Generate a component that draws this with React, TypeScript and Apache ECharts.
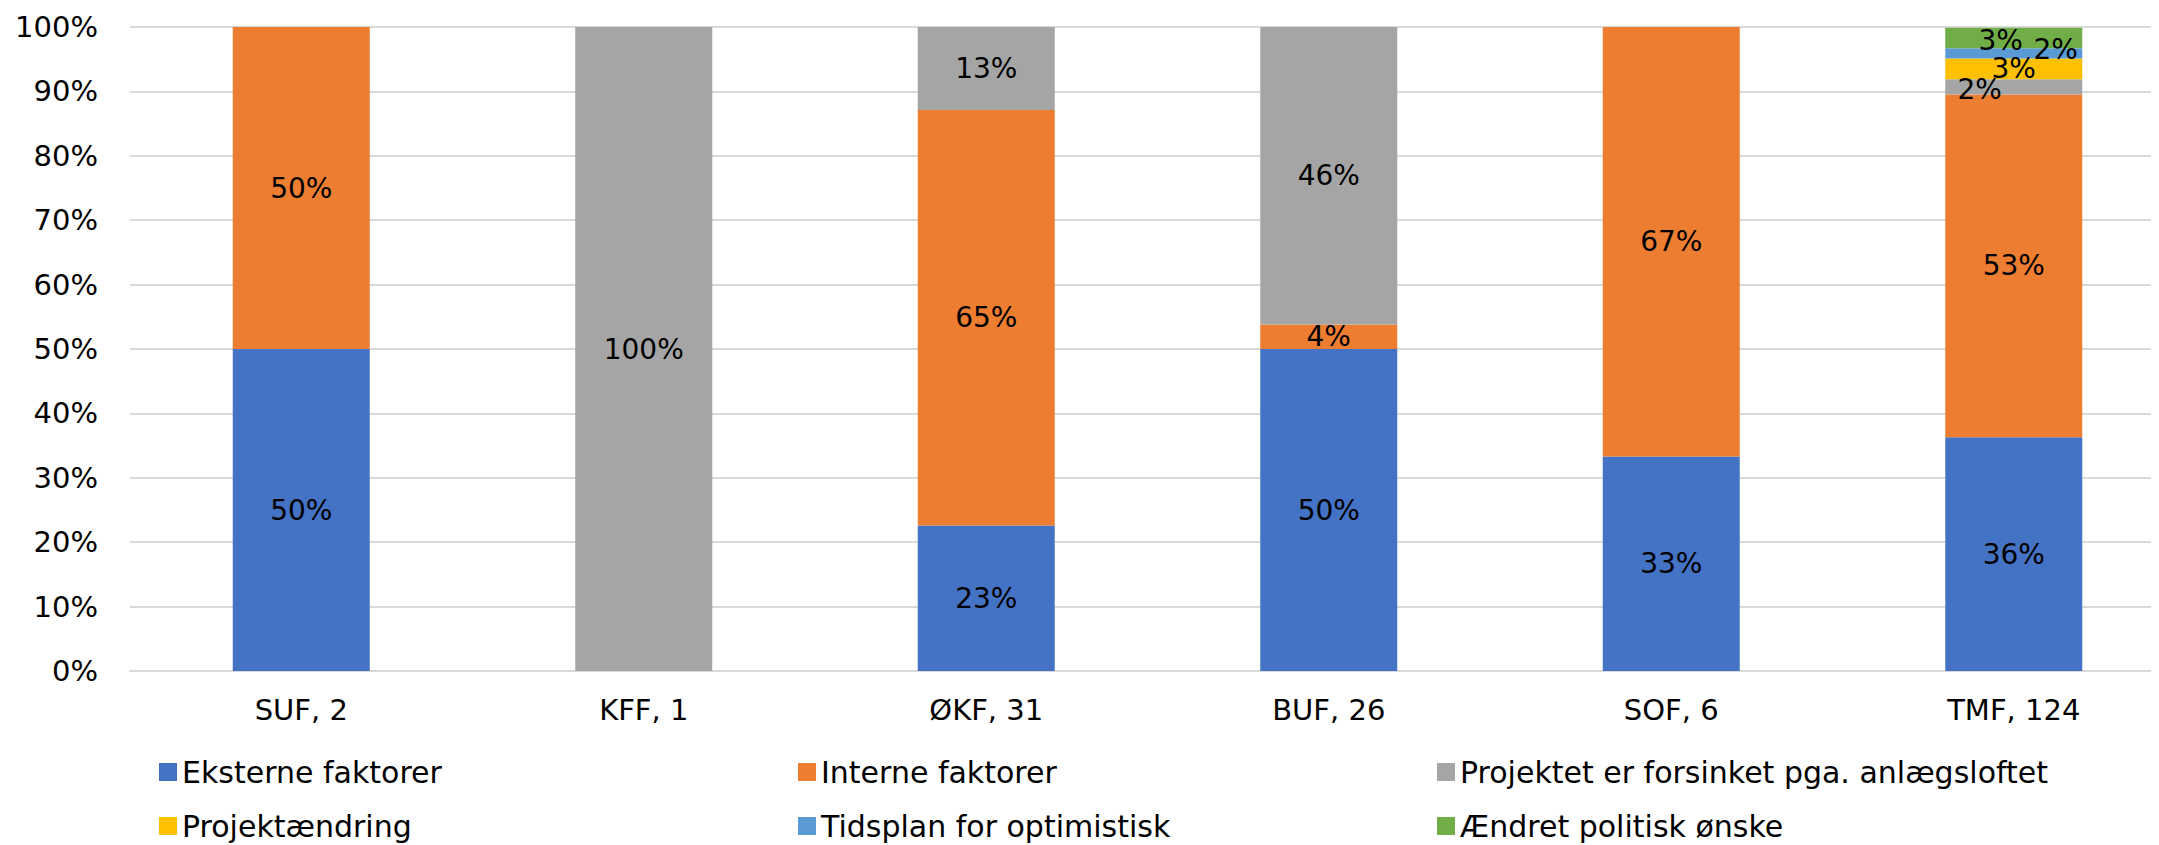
import React, { useEffect, useRef } from "react";
import * as echarts from "echarts";

const categories = ["SUF, 2", "KFF, 1", "ØKF, 31", "BUF, 26", "SOF, 6", "TMF, 124"];
const seriesNames = [
  "Eksterne faktorer",
  "Interne faktorer",
  "Projektet er forsinket pga. anlægsloftet",
  "Projektændring",
  "Tidsplan for optimistisk",
  "Ændret politisk ønske",
];
const eksterne = [50, null, 22.6, 50, 33.3, 36.3];
const interne = [50, null, 64.5, 3.8, 66.7, 53.2];
const projektet = [null, 100, 12.9, 46.2, null, 2.4];
const projektaendring = [null, null, null, null, null, 3.2];
const tidsplan = [null, null, null, null, null, 1.6];
const aendret = [null, null, null, null, null, 3.2];
const yTicks = [0, 10, 20, 30, 40, 50, 60, 70, 80, 90, 100];

const values = [eksterne, interne, projektet, projektaendring, tidsplan, aendret];
const colors = ["#4472C4", "#ED7D31", "#A5A5A5", "#FFC000", "#5B9BD5", "#70AD47"];
// label nudges (Excel-style overlap avoidance) for the last category
const lastOffsets: (number[] | null)[] = [null, null, [-34, 3], [0, 0], [42, -4], [-13, 3]];

const FONT = "'DejaVu Sans', 'Open Sans', sans-serif";

export default function App() {
  const ref = useRef<HTMLDivElement>(null);
  useEffect(() => {
    if (!ref.current) return;
    const chart = echarts.init(ref.current, null, { renderer: "svg" });
    const legendX = [159, 798, 1437];
    const legendY = [757, 811];
    const legends = seriesNames.map((name, i) => ({
      data: [name],
      left: legendX[i % 3],
      top: legendY[Math.floor(i / 3)],
      icon: "rect",
      itemWidth: 18,
      itemHeight: 18,
      itemGap: 10,
      padding: 0,
      selectedMode: false,
      textStyle: { fontFamily: FONT, fontSize: 30, color: "#000", padding: [0, 0, 0, 0] },
    }));
    chart.setOption({
      animation: false,
      textStyle: { fontFamily: FONT },
      grid: { left: 130, top: 27, width: 2055, height: 644, containLabel: false },
      legend: legends,
      xAxis: {
        type: "category",
        data: categories,
        axisTick: { show: false },
        axisLine: { lineStyle: { color: "#D9D9D9", width: 2 } },
        axisLabel: { fontFamily: FONT, fontSize: 29, color: "#000", margin: 24 },
      },
      yAxis: {
        type: "value",
        min: yTicks[0],
        max: yTicks[yTicks.length - 1],
        interval: 10,
        axisLabel: { formatter: "{value}%", fontFamily: FONT, fontSize: 29, color: "#000", margin: 32 },
        splitLine: { lineStyle: { color: "#D9D9D9", width: 2 } },
        axisLine: { show: false },
        axisTick: { show: false },
      },
      series: values.map((vals, si) => ({
        name: seriesNames[si],
        type: "bar",
        stack: "total",
        barWidth: 137,
        itemStyle: { color: colors[si] },
        label: {
          show: true,
          position: "inside",
          fontFamily: FONT,
          fontSize: 28,
          color: "#000",
          formatter: (p: any) => (p.value == null || p.value === 0 ? "" : Math.round(p.value) + "%"),
        },
        data: vals.map((v, ci) => {
          const off = ci === categories.length - 1 ? lastOffsets[si] : null;
          if (v != null && off) return { value: v, label: { offset: off } };
          return v;
        }),
      })),
    });
    return () => chart.dispose();
  }, []);
  return (
    <div style={{ width: 2159, height: 845, marginLeft: -8, marginTop: -8, overflow: "hidden", position: "relative" }}>
      <div ref={ref} style={{ width: 2240, height: 845 }} />
    </div>
  );
}
